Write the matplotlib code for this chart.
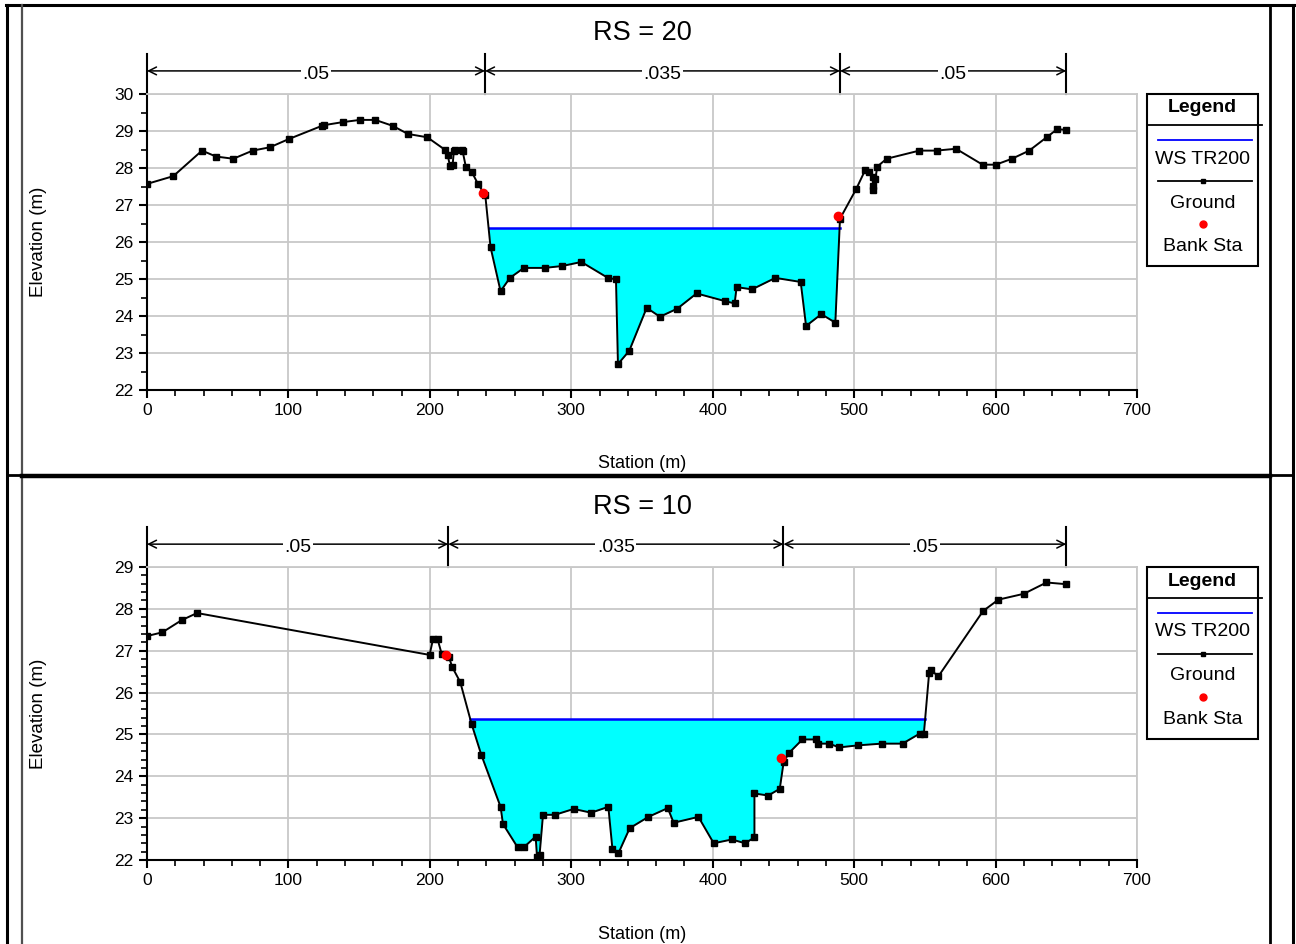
import matplotlib
matplotlib.use("Agg")
import matplotlib.pyplot as plt
import numpy as np
from matplotlib.lines import Line2D
from matplotlib.patches import Rectangle
from matplotlib.ticker import MultipleLocator

plt.rcParams['font.family'] = ['Liberation Sans', 'DejaVu Sans']

# ---- RS = 20 ----
x_top = [0, 18.6, 38.9, 48.8, 61, 74.7, 86.9, 100.1,
         123.7, 125.5, 138.4, 150.6, 161.4, 173.7, 184.5, 198.2,
         210.4, 212.7, 214.2, 216.1, 217, 218, 222.7, 223.2,
         225.5, 229.7, 234, 239.2, 242.9, 250, 256.6, 266.5,
         281.1, 293.4, 307.1, 325.9, 331.6, 333, 341, 353.3,
         362.7, 375, 388.6, 408.9, 415.5, 416.9, 427.8, 444.3,
         462.2, 466, 476.8, 486.7, 490, 501.3, 507.9, 510.7,
         513.1, 513.5, 513.5, 515, 516.4, 523, 546.1, 558.3,
         572, 590.8, 600.2, 611.6, 623.8, 636.1, 643.6, 649.8]
z_top = [27.57, 27.78, 28.47, 28.31, 28.25, 28.47, 28.56, 28.78,
         29.14, 29.16, 29.24, 29.30, 29.30, 29.14, 28.92, 28.83,
         28.5, 28.34, 28.05, 28.08, 28.47, 28.5, 28.5, 28.45,
         28.02, 27.89, 27.57, 27.26, 25.86, 24.67, 25.03, 25.30,
         25.30, 25.35, 25.46, 25.03, 24.99, 22.70, 23.06, 24.22,
         23.98, 24.20, 24.61, 24.40, 24.34, 24.78, 24.72, 25.03,
         24.92, 23.73, 24.05, 23.82, 26.63, 27.42, 27.95, 27.89,
         27.75, 27.51, 27.41, 27.71, 28.04, 28.25, 28.47, 28.47,
         28.52, 28.09, 28.09, 28.25, 28.47, 28.83, 29.05, 29.03]
ws_top = 26.37
bank_x_top = [237.3, 488.6]
bank_z_top = [27.32, 26.70]
n_breaks_top = [0, 239, 490, 650]
n_vals_top = ['.05', '.035', '.05']

# ---- RS = 10 ----
x_bot = [0, 10.9, 24.5, 35.4, 199.8, 202.2, 205.5, 208.3,
         213.5, 215.8, 221.5, 229.5, 236.4, 250, 251.7, 262.1,
         266.3, 274.8, 275.8, 277.6, 280, 288.5, 301.7, 314,
         326.2, 329.1, 333.3, 341.3, 354.5, 368.2, 372.4, 389.9,
         400.7, 413.5, 422.9, 429.5, 429.5, 439.2, 447.4, 450.2,
         454, 463.4, 472.8, 474.3, 482.3, 489.4, 503, 519.5,
         534.2, 546.4, 549.3, 553, 554.4, 559.6, 591.2, 602,
         620, 636, 649.7]
z_bot = [27.35, 27.44, 27.73, 27.90, 26.90, 27.27, 27.27, 26.93,
         26.85, 26.61, 26.25, 25.25, 24.51, 23.27, 22.86, 22.30,
         22.30, 22.56, 22.06, 22.13, 23.08, 23.08, 23.22, 23.13,
         23.27, 22.26, 22.16, 22.76, 23.03, 23.24, 22.89, 23.03,
         22.40, 22.49, 22.40, 22.54, 23.59, 23.54, 23.70, 24.35,
         24.56, 24.88, 24.88, 24.78, 24.78, 24.69, 24.74, 24.78,
         24.78, 25.02, 25.02, 26.46, 26.53, 26.39, 27.95, 28.22,
         28.36, 28.63, 28.59]
ws_bot = 25.38
bank_x_bot = [211.6, 448.0]
bank_z_bot = [26.90, 24.43]
n_breaks_bot = [0, 213, 450, 650]
n_vals_bot = ['.05', '.035', '.05']

W, H = 1296, 944


def fx(p):
    return p / W


def fy(p):
    return 1 - p / H


def ws_extent(x, z, ws):
    # first and last crossing of the water surface with the ground line
    x = np.asarray(x, float)
    z = np.asarray(z, float)
    idx = np.where(z < ws)[0]
    i0, i1 = idx[0], idx[-1]
    xl = x[i0 - 1] + (z[i0 - 1] - ws) / (z[i0 - 1] - z[i0]) * (x[i0] - x[i0 - 1])
    xr = x[i1] + (ws - z[i1]) / (z[i1 + 1] - z[i1]) * (x[i1 + 1] - x[i1])
    return xl, xr


def draw_section(ax, x, z, ws, bx, bz, breaks, nvals, title, ymin, ymax, yminor, xlab_y):
    x = np.asarray(x, float)
    z = np.asarray(z, float)
    ax.fill_between(x, z, ws, where=z < ws, interpolate=True,
                    color='#00FFFF', lw=0, zorder=2)
    xl, xr = ws_extent(x, z, ws)
    ax.plot([xl, xr], [ws, ws], color='#0000FF', lw=1.8, zorder=3)
    ax.plot(x, z, color='black', lw=1.4, marker='s', ms=3.8, zorder=4)
    ax.plot(bx, bz, 'o', color='#FF0000', ms=6, zorder=5)

    ax.set_xlim(0, 700)
    ax.set_ylim(ymin, ymax)
    ax.xaxis.set_major_locator(MultipleLocator(100))
    ax.xaxis.set_minor_locator(MultipleLocator(20))
    ax.yaxis.set_major_locator(MultipleLocator(1))
    ax.yaxis.set_minor_locator(MultipleLocator(yminor))
    ax.grid(True, which='major', color='#c8c8c8', lw=1.3, zorder=0)
    ax.set_axisbelow(True)
    for s in ['top', 'right']:
        ax.spines[s].set_color('#c8c8c8')
        ax.spines[s].set_linewidth(1.3)
    for s in ['left', 'bottom']:
        ax.spines[s].set_linewidth(1.5)
    ax.tick_params(which='major', direction='out', length=6, width=1.5, labelsize=12.5)
    ax.tick_params(which='minor', direction='out', length=4, width=1.2)

    ax.set_xlabel('Station (m)', fontsize=13)
    ax.set_ylabel('Elevation (m)', fontsize=13.5)
    ax.xaxis.set_label_coords(0.5, xlab_y)
    ax.yaxis.set_label_coords(-0.101, 0.5)

    ax.text(0.5, 1.205, title, transform=ax.transAxes, ha='center',
            va='center', fontsize=19.5)

    tr = ax.get_xaxis_transform()
    ya = 1.078
    for b in breaks:
        ax.plot([b, b], [1.0, 1.135], transform=tr, clip_on=False,
                color='black', lw=1.5)
    for x0, x1, lab in zip(breaks[:-1], breaks[1:], nvals):
        ax.annotate('', xy=(x1, ya), xytext=(x0, ya), xycoords=tr,
                    textcoords=tr, annotation_clip=False,
                    arrowprops=dict(arrowstyle='<->', color='black', lw=1.1,
                                    shrinkA=0, shrinkB=0, mutation_scale=14))
        ax.text((x0 + x1) / 2, ya - 0.012, lab, transform=tr, ha='center',
                va='center', fontsize=14,
                bbox=dict(facecolor='white', edgecolor='none', pad=1.0))


def draw_legend(fig, top):
    l, r = 1147, 1258
    cx = (l + r) / 2
    fig.add_artist(Rectangle((fx(l), fy(top + 172)), fx(r) - fx(l),
                             fy(top) - fy(top + 172), transform=fig.transFigure,
                             facecolor='white', edgecolor='black', lw=1.5))
    fig.add_artist(Line2D([fx(l), fx(r + 4)], [fy(top + 31)] * 2,
                          transform=fig.transFigure, color='black', lw=1.3))
    fig.text(fx(cx), fy(top + 14), 'Legend', ha='center', va='center',
             fontsize=14, fontweight='bold')
    fig.add_artist(Line2D([fx(1158), fx(1252)], [fy(top + 46)] * 2,
                          transform=fig.transFigure, color='#0000FF', lw=1.3))
    fig.text(fx(cx), fy(top + 65), 'WS TR200', ha='center', va='center', fontsize=14)
    fig.add_artist(Line2D([fx(1158), fx(1252)], [fy(top + 87)] * 2,
                          transform=fig.transFigure, color='black', lw=1.3))
    fig.add_artist(Line2D([fx(cx)], [fy(top + 87)], transform=fig.transFigure,
                          color='black', marker='s', ms=3.5, lw=0))
    fig.text(fx(cx), fy(top + 109), 'Ground', ha='center', va='center', fontsize=14)
    fig.add_artist(Line2D([fx(cx)], [fy(top + 130)], transform=fig.transFigure,
                          color='#FF0000', marker='o', ms=5, lw=0))
    fig.text(fx(cx), fy(top + 152), 'Bank Sta', ha='center', va='center', fontsize=14)


fig = plt.figure(figsize=(12.96, 9.44), dpi=100)

ax1 = fig.add_axes([fx(147), fy(390), fx(1137) - fx(147), fy(94) - fy(390)])
draw_section(ax1, x_top, z_top, ws_top, bank_x_top, bank_z_top,
             n_breaks_top, n_vals_top, 'RS = 20', 22, 30, 0.5, -0.22)

ax2 = fig.add_axes([fx(147), fy(860), fx(1137) - fx(147), fy(567) - fy(860)])
draw_section(ax2, x_bot, z_bot, ws_bot, bank_x_bot, bank_z_bot,
             n_breaks_bot, n_vals_bot, 'RS = 10', 22, 29, 0.2, -0.225)

draw_legend(fig, 94)
draw_legend(fig, 567)

# table-like frame around the two panels
def fline(x0, y0, x1, y1, lw=2.0, color='black'):
    fig.add_artist(Line2D([fx(x0), fx(x1)], [fy(y0), fy(y1)],
                          transform=fig.transFigure, color=color, lw=lw))

fline(6, 5, 1294, 5, lw=2.2)
fline(7, 5, 7, 944, lw=2.2)
fline(22, 5, 22, 944, lw=1.6, color='#505050')
fline(1270, 5, 1270, 944, lw=2.0)
fline(1293, 5, 1293, 944, lw=2.2)
fline(22, 476, 1270, 476, lw=3.2)
fline(7, 475, 22, 475, lw=2.0)
fline(1270, 475, 1293, 475, lw=2.0)

fig.savefig('out.png', dpi=100)
